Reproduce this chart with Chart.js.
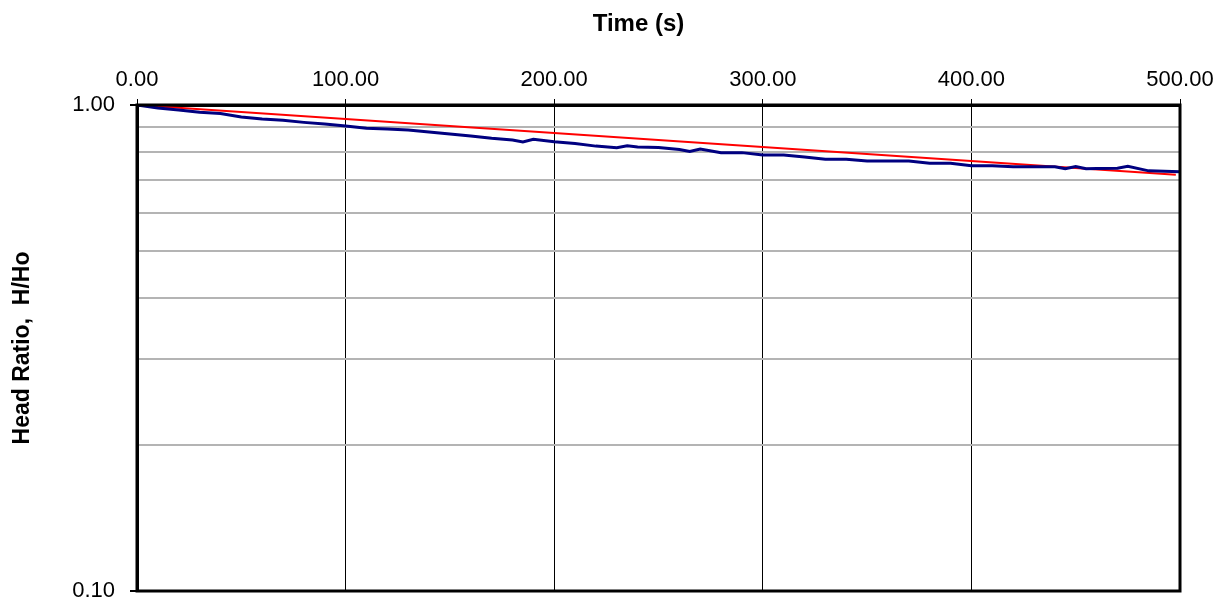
<!DOCTYPE html>
<html>
<head>
<meta charset="utf-8">
<script src="https://cdn.jsdelivr.net/npm/chart.js@4.4.1/dist/chart.umd.min.js"></script>
<style>
  html, body { margin: 0; padding: 0; background: #fff; }
  #wrap { width: 1223px; height: 605px; }
</style>
</head>
<body>
<div id="wrap"><canvas id="myChart" width="1223" height="605"></canvas></div>
<script>
// measured head ratio vs time
const timeSec = [0, 10, 20, 30, 40, 50, 60, 70, 80, 90, 100, 110, 120, 130, 140, 150, 160, 170, 180, 185,
  190, 200, 210, 220, 230, 235, 240, 250, 260, 265, 270, 280, 290, 300, 310, 320, 330, 340, 350, 360,
  370, 380, 390, 400, 410, 420, 430, 440, 445, 450, 455, 460, 470, 475, 485, 500];
const headRatio = [1.000, 0.986, 0.977, 0.966, 0.961, 0.945, 0.936, 0.930, 0.921, 0.914, 0.905, 0.896, 0.892, 0.888, 0.880, 0.872, 0.863, 0.854, 0.847, 0.839,
  0.850, 0.840, 0.833, 0.823, 0.817, 0.824, 0.820, 0.818, 0.810, 0.802, 0.812, 0.798, 0.798, 0.789, 0.789, 0.782, 0.773, 0.773, 0.767, 0.767,
  0.767, 0.759, 0.759, 0.750, 0.750, 0.746, 0.746, 0.746, 0.739, 0.747, 0.739, 0.740, 0.741, 0.748, 0.732, 0.729];

// straight-line fit (on the log axis)
const fitTime = [0, 498];
const fitRatio = [1.0, 0.719];

const xTicks = [0, 100, 200, 300, 400, 500];
const yTicks = [0.1, 0.2, 0.3, 0.4, 0.5, 0.6, 0.7, 0.8, 0.9, 1.0];

const frame = {
    id: 'frame',
    afterDatasetsDraw(chart) {
        const a = chart.chartArea;
        const c = chart.ctx;
        c.save();
        c.strokeStyle = '#000';
        c.lineWidth = 3;
        c.strokeRect(a.left, a.top, a.right - a.left, a.bottom - a.top);
        c.restore();
    }
};

const ctx = document.getElementById('myChart');
const chart = new Chart(ctx, {
    type: 'line',
    data: {
        datasets: [{
            label: 'Data',
            data: timeSec.map((t, i) => ({ x: t, y: headRatio[i] })),
            borderColor: '#000080',
            borderWidth: 3,
            pointRadius: 0,
            tension: 0
        }, {
            label: 'Fit',
            data: fitTime.map((t, i) => ({ x: t, y: fitRatio[i] })),
            borderColor: '#ff0000',
            borderWidth: 2,
            pointRadius: 0,
            tension: 0
        }]
    },
    options: {
        responsive: false,
        animation: false,
        layout: { padding: { left: 0, top: 0, right: 43, bottom: 14 } },
        plugins: {
            legend: { display: false },
            tooltip: { enabled: false }
        },
        scales: {
            x: {
                type: 'linear',
                position: 'top',
                min: 0,
                max: 500,
                afterBuildTicks: s => { s.ticks = xTicks.map(v => ({ value: v })); },
                afterFit: s => { s.height = 105; },
                ticks: {
                    callback: v => Number(v).toFixed(2),
                    color: '#000',
                    font: { family: 'Liberation Sans', size: 22 },
                    padding: 6,
                    maxRotation: 0,
                    autoSkip: false
                },
                grid: { color: '#000', lineWidth: 1, tickLength: 6 },
                border: { color: '#000', width: 3 },
                title: {
                    display: true,
                    // trailing spaces nudge the centred title left, as in the original
                    text: 'Time (s)      ',
                    color: '#000',
                    font: { family: 'Liberation Sans', size: 24, weight: 'bold' },
                    padding: { top: 10, bottom: 0 }
                }
            },
            y: {
                type: 'logarithmic',
                min: 0.1,
                max: 1,
                afterBuildTicks: s => { s.ticks = yTicks.map(v => ({ value: v })); },
                afterFit: s => { s.width = 137; s.paddingTop = 0; s.paddingBottom = 0; },
                ticks: {
                    callback: v => (v === 0.1 || v === 1) ? Number(v).toFixed(2) : '',
                    color: '#000',
                    font: { family: 'Liberation Sans', size: 22 },
                    padding: 15,
                    autoSkip: false
                },
                grid: {
                    color: '#b4b4b4',
                    lineWidth: 2,
                    tickLength: 7,
                    tickColor: c => (c.tick && (c.tick.value === 0.1 || c.tick.value === 1)) ? '#000' : 'rgba(0,0,0,0)'
                },
                border: { color: '#000', width: 3 },
                title: {
                    display: true,
                    text: 'Head Ratio,  H/Ho',
                    color: '#000',
                    font: { family: 'Liberation Sans', size: 23, weight: 'bold' },
                    padding: { top: 9, bottom: 0 }
                }
            }
        }
    },
    plugins: [frame]
});
</script>
</body>
</html>
